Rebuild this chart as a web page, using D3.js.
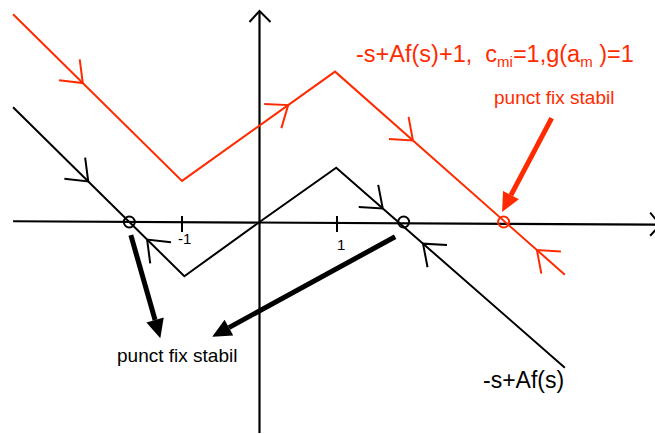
<!DOCTYPE html>
<html lang="en">
<head>
<meta charset="utf-8">
<title>D3: punct fix stabil</title>
<script src="https://cdn.jsdelivr.net/npm/d3@7"></script>
<style>
  body { margin: 0; background: #fff; }
  text { font-family: "Liberation Sans", Arial, Helvetica, sans-serif; }
</style>
</head>
<body>
<script>
// curves, in (s, value) units: 1 unit = distance from 0 to the "1" tick
var blackCurve = [[-3.18, 1.48], [-0.97, -0.70], [0, 0], [0.99, 0.70], [3.94, -1.88]];
var redCurve   = [[-3.18, 2.68], [-1.0, 0.53], [0.975, 1.94], [3.94, -0.68]];

// fixed points on the s axis
var blackFixed = [-1.68, 1.86];
var redFixed   = [3.15];

// direction chevrons: s position of the tip, +1 = pointing to larger s
var blackArrows = [[-2.21, 1], [-1.45, -1], [1.59, 1], [2.11, -1]];
var redArrows   = [[-2.28, 1], [0.37, 1], [1.98, 1], [3.58, -1]];

// big annotation arrows: [from, to]
var blackPointers = [[[-1.66, -0.17], [-1.28, -1.50]], [[1.75, -0.19], [-0.61, -1.48]]];
var redPointers   = [[[3.77, 1.34], [3.13, 0.13]]];

var tickValues = [-1, 1];
var tickLabels = ["-1", "1"];

var w = 655, h = 434;
var red = "#ff2b00";

var x = d3.scaleLinear().domain([-1, 1]).range([182, 337]);
var y = d3.scaleLinear().domain([0, 1]).range([222, 222 - 77.5]);

var svg = d3.select("body").append("svg").attr("width", w).attr("height", h);

// axes
var xAxisEnds = [[-3.18, 0.01], [5.17, -0.035]];
svg.append("line")
  .attr("x1", x(xAxisEnds[0][0])).attr("y1", y(xAxisEnds[0][1]))
  .attr("x2", x(xAxisEnds[1][0])).attr("y2", y(xAxisEnds[1][1]))
  .attr("stroke", "#000").attr("stroke-width", 2.2);
var xt = [x(xAxisEnds[1][0]), y(xAxisEnds[1][1])];
svg.append("path")
  .attr("d", "M" + (xt[0] - 10) + "," + (xt[1] - 12) + "L" + xt[0] + "," + xt[1] + "L" + (xt[0] - 10) + "," + (xt[1] + 11))
  .attr("fill", "none").attr("stroke", "#000").attr("stroke-width", 2);

svg.append("line")
  .attr("x1", x(0)).attr("y1", 433).attr("x2", x(0)).attr("y2", 11)
  .attr("stroke", "#000").attr("stroke-width", 2.2);
svg.append("path")
  .attr("d", "M" + (x(0) - 10) + ",22L" + x(0) + ",11L" + (x(0) + 11) + ",22")
  .attr("fill", "none").attr("stroke", "#000").attr("stroke-width", 2);

svg.selectAll(".tick").data(tickValues).enter().append("line")
  .attr("class", "tick")
  .attr("x1", function(d) { return x(d); }).attr("x2", function(d) { return x(d); })
  .attr("y1", 216).attr("y2", 232)
  .attr("stroke", "#000").attr("stroke-width", 2);
svg.selectAll(".ticklabel").data(tickValues).enter().append("text")
  .attr("class", "ticklabel")
  .attr("x", function(d) { return x(d) + (d < 0 ? -4 : 0); })
  .attr("y", function(d) { return d < 0 ? 244 : 250; })
  .attr("font-size", 15)
  .text(function(d, i) { return tickLabels[i]; });

// curves
var line = d3.line().x(function(d) { return x(d[0]); }).y(function(d) { return y(d[1]); });
svg.append("path").attr("d", line(blackCurve)).attr("fill", "none").attr("stroke", "#000").attr("stroke-width", 2);
svg.append("path").attr("d", line(redCurve)).attr("fill", "none").attr("stroke", red).attr("stroke-width", 2);

// value of a polyline at s
function valueAt(curve, s) {
  for (var i = 0; i < curve.length - 1; i++) {
    var a = curve[i], b = curve[i + 1];
    if (s >= a[0] && s <= b[0]) return a[1] + (b[1] - a[1]) * (s - a[0]) / (b[0] - a[0]);
  }
  return curve[curve.length - 1][1];
}

function chevrons(curve, arrows, color) {
  svg.selectAll(null).data(arrows).enter().append("path")
    .attr("d", function(d) {
      var s = d[0], dir = d[1], e = 0.05;
      var tx = x(s), ty = y(valueAt(curve, s));
      var bx = x(s - dir * e), by = y(valueAt(curve, s - dir * e));
      var ang = Math.atan2(by - ty, bx - tx), half = 38 * Math.PI / 180, L = 24;
      return "M" + (tx + L * Math.cos(ang - half)) + "," + (ty + L * Math.sin(ang - half)) +
        "L" + tx + "," + ty +
        "L" + (tx + L * Math.cos(ang + half)) + "," + (ty + L * Math.sin(ang + half));
    })
    .attr("fill", "none").attr("stroke", color).attr("stroke-width", 2);
}
chevrons(blackCurve, blackArrows, "#000");
chevrons(redCurve, redArrows, red);

// fixed point circles
svg.selectAll(null).data(blackFixed).enter().append("circle")
  .attr("cx", function(d) { return x(d); }).attr("cy", y(0)).attr("r", 5.5)
  .attr("fill", "none").attr("stroke", "#000").attr("stroke-width", 2);
svg.selectAll(null).data(redFixed).enter().append("circle")
  .attr("cx", function(d) { return x(d); }).attr("cy", y(0)).attr("r", 5.5)
  .attr("fill", "none").attr("stroke", red).attr("stroke-width", 2);

// big pointers
function pointers(list, color) {
  list.forEach(function(p) {
    var x0 = x(p[0][0]), y0 = y(p[0][1]), x1 = x(p[1][0]), y1 = y(p[1][1]);
    var ang = Math.atan2(y1 - y0, x1 - x0), hl = 19, hw = 9;
    var bx = x1 - hl * Math.cos(ang), by = y1 - hl * Math.sin(ang);
    svg.append("line").attr("x1", x0).attr("y1", y0).attr("x2", bx).attr("y2", by)
      .attr("stroke", color).attr("stroke-width", 5);
    svg.append("path")
      .attr("d", "M" + x1 + "," + y1 +
        "L" + (bx + hw * Math.sin(ang)) + "," + (by - hw * Math.cos(ang)) +
        "L" + (bx - hw * Math.sin(ang)) + "," + (by + hw * Math.cos(ang)) + "Z")
      .attr("fill", color);
  });
}
pointers(blackPointers, "#000");
pointers(redPointers, red);

// labels
var title = svg.append("text").attr("x", 356).attr("y", 62).attr("font-size", 23.5).attr("fill", red);
title.append("tspan").text("-s+Af(s)+1,\u00a0\u00a0c");
title.append("tspan").attr("font-size", 15).attr("dy", 5).text("mi");
title.append("tspan").attr("dy", -5).text("=1,g(a");
title.append("tspan").attr("font-size", 15).attr("dy", 5).text("m");
title.append("tspan").attr("dy", -5).text("\u00a0)=1");

svg.append("text").attr("x", 494).attr("y", 104).attr("font-size", 19).attr("fill", red).text("punct fix stabil");
svg.append("text").attr("x", 117).attr("y", 362).attr("font-size", 19).attr("fill", "#000").text("punct fix stabil");
svg.append("text").attr("x", 483).attr("y", 388).attr("font-size", 23).attr("fill", "#000").text("-s+Af(s)");
</script>
</body>
</html>
